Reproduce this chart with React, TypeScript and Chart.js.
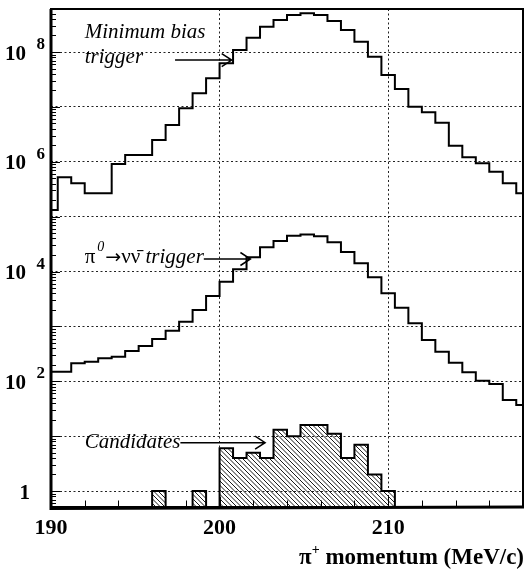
import { useEffect, useRef } from 'react';
import { Chart, registerables } from 'chart.js';

Chart.register(...registerables);

// ---- data ----
const BIN_START = 189.6; // MeV/c, lower edge of first bin
const BIN_WIDTH = 0.8; // MeV/c
const X_MIN = 190;
const X_MAX = 218;
const Y_MIN = 0.511;
const Y_MAX = 6.08e8;

// Minimum bias trigger, counts per bin (bins start at 189.6, width 0.8)
const minBiasCounts = [
  1.32e5, 5.21e5, 4.05e5, 2.66e5, 2.66e5, 9.1e5, 1.33e6, 1.33e6, 2.49e6, 4.67e6,
  9.42e6, 1.77e7, 3.32e7, 6.22e7, 1.09e8, 1.82e8, 2.89e8, 3.83e8, 4.72e8, 5.07e8,
  4.72e8, 3.67e8, 2.52e8, 1.54e8, 8.21e7, 3.81e7, 2.12e7, 1.01e7, 7.96e6, 5.15e6,
  1.96e6, 1.21e6, 9.37e5, 6.59e5, 4.05e5, 2.66e5,
];

// pi0 -> nu nubar trigger
const pi0Counts = [
  149, 149, 212, 227, 262, 280, 356, 439, 589, 834,
  1217, 1988, 3580, 6520, 10970, 18150, 27600, 35970, 44900, 47200,
  43800, 34000, 22650, 14100, 7840, 4010, 2190, 1138, 565, 345,
  218, 146, 102, 89, 45.5, 36.9,
];

// Candidates
const candidateCounts = [
  0, 0, 0, 0, 0, 0, 0, 0, 1, 0,
  0, 1, 0, 6, 4, 5, 4, 13, 10, 16,
  16, 11, 4, 7, 2, 1, 0, 0, 0, 0,
  0, 0, 0, 0, 0, 0,
];

const xTickStep = 2;
const xLabels = [190, 200, 210];
const xGridValues = [200, 210];
const yGridExponents = [0, 1, 2, 3, 4, 5, 6, 7, 8];
const yLabelExponents = [0, 2, 4, 6, 8];

// annotations (data coordinates)
const annMinBias = { x: 192.0, y: 1.8e8, lines: ['Minimum bias', 'trigger'], tipX: 200.72, tipY: 7.15e7 };
const annPi0 = { x: 192.0, y: 1.41e4, tipX: 201.83, tipY: 1.69e4 };
const annCand = { x: 192.0, y: 6.0, text: 'Candidates', tipX: 202.7, tipY: 7.6 };

const FLOOR = 0.05; // value used to draw empty bins below the axis

function histPoints(counts: number[]) {
  const pts: { x: number; y: number }[] = [];
  for (let i = 0; i <= counts.length; i++) {
    const v = counts[Math.min(i, counts.length - 1)];
    pts.push({ x: +(BIN_START + i * BIN_WIDTH).toFixed(2), y: v > 0 ? v : FLOOR });
  }
  return pts;
}

const SERIF = '"Liberation Serif", "Times New Roman", serif';
const W = 524;
const H = 570;

function makeHatch(): CanvasPattern | string {
  const s = 9;
  const c = document.createElement('canvas');
  c.width = s;
  c.height = s;
  const g = c.getContext('2d');
  if (!g) return 'rgba(0,0,0,0.3)';
  g.strokeStyle = '#000';
  g.lineWidth = 0.9;
  g.beginPath();
  for (const k of [-9, -4.5, 0, 4.5, 9]) {
    g.moveTo(k - 1, -1);
    g.lineTo(k + s + 1, s + 1);
  }
  g.stroke();
  const p = g.createPattern(c, 'repeat');
  return p || 'rgba(0,0,0,0.3)';
}

function arrow(ctx: CanvasRenderingContext2D, x1: number, y1: number, x2: number) {
  ctx.beginPath();
  ctx.moveTo(x1, y1);
  ctx.lineTo(x2, y1);
  ctx.moveTo(x2 - 10, y1 - 6.5);
  ctx.lineTo(x2, y1);
  ctx.lineTo(x2 - 10, y1 + 6.5);
  ctx.stroke();
}

const overlay = {
  id: 'overlay',
  afterDraw(chart: any) {
    const { ctx, chartArea: a, scales } = chart;
    const x = scales.x;
    const y = scales.y;
    ctx.save();
    ctx.strokeStyle = '#000';
    ctx.fillStyle = '#000';

    // inner ticks on y axis
    ctx.lineWidth = 1;
    ctx.beginPath();
    for (let e = -1; e <= 9; e++) {
      for (let m = 1; m <= 9; m++) {
        const v = m * Math.pow(10, e);
        if (v < Y_MIN || v > Y_MAX) continue;
        const py = Math.round(y.getPixelForValue(v)) + 0.5;
        const len = m === 1 ? 9 : 5;
        ctx.moveTo(a.left, py);
        ctx.lineTo(a.left + len, py);
      }
    }
    // inner ticks on x axis
    for (let v = X_MIN; v <= X_MAX; v += xTickStep) {
      const px = Math.round(x.getPixelForValue(v)) + 0.5;
      const len = v % 10 === 0 ? 10 : 6.5;
      ctx.moveTo(px, a.bottom);
      ctx.lineTo(px, a.bottom - len);
    }
    ctx.stroke();

    // frame
    ctx.lineWidth = 2;
    ctx.strokeRect(a.left, a.top, a.right - a.left, a.bottom - a.top);
    ctx.lineWidth = 3;
    ctx.beginPath();
    ctx.moveTo(a.left, a.top);
    ctx.lineTo(a.left, a.bottom + 1.5);
    ctx.lineTo(a.right + 1, a.bottom);
    ctx.stroke();

    // x labels
    ctx.textBaseline = 'alphabetic';
    ctx.textAlign = 'center';
    ctx.font = `bold 22px ${SERIF}`;
    for (const v of xLabels) {
      ctx.fillText(String(v), x.getPixelForValue(v), a.bottom + 27);
    }

    // y labels 10^n
    for (const e of yLabelExponents) {
      const py = y.getPixelForValue(Math.pow(10, e));
      if (e === 0) {
        ctx.font = `bold 21px ${SERIF}`;
        ctx.textAlign = 'right';
        ctx.fillText('1', a.left - 21, py + 8);
      } else {
        ctx.font = `bold 21px ${SERIF}`;
        ctx.textAlign = 'right';
        ctx.fillText('10', a.left - 25, py + 7.5);
        ctx.font = `bold 17px ${SERIF}`;
        ctx.textAlign = 'left';
        ctx.fillText(String(e), a.left - 14.5, py - 3);
      }
    }

    // x title: pi+ momentum (MeV/c)
    ctx.textAlign = 'left';
    const tb = a.bottom + 57;
    ctx.font = `bold 23px ${SERIF}`;
    const rest = ' momentum (MeV/c)';
    const wRest = ctx.measureText(rest).width;
    const wPi = ctx.measureText('π').width;
    ctx.font = `bold 14px ${SERIF}`;
    const wPlus = ctx.measureText('+').width;
    let tx = a.right + 1 - wRest - wPlus - wPi;
    ctx.font = `bold 23px ${SERIF}`;
    ctx.fillText('π', tx, tb);
    tx += wPi;
    ctx.font = `bold 14px ${SERIF}`;
    ctx.fillText('+', tx, tb - 10);
    tx += wPlus;
    ctx.font = `bold 23px ${SERIF}`;
    ctx.fillText(rest, tx, tb);

    // annotations
    ctx.lineWidth = 1.5;
    // Minimum bias
    {
      const px = x.getPixelForValue(annMinBias.x);
      const py = y.getPixelForValue(annMinBias.y);
      ctx.font = `italic 21px ${SERIF}`;
      ctx.fillText(annMinBias.lines[0], px, py);
      ctx.fillText(annMinBias.lines[1], px, py + 25);
      const w = ctx.measureText(annMinBias.lines[1]).width;
      const ty = y.getPixelForValue(annMinBias.tipY);
      arrow(ctx, px + w + 32, ty, x.getPixelForValue(annMinBias.tipX));
    }
    // pi0 -> nu nubar trigger
    {
      let px = x.getPixelForValue(annPi0.x);
      const py = y.getPixelForValue(annPi0.y);
      ctx.font = `21px ${SERIF}`;
      ctx.fillText('π', px, py);
      px += ctx.measureText('π').width + 2;
      ctx.font = `italic 14px ${SERIF}`;
      ctx.fillText('0', px, py - 12);
      px += ctx.measureText('0').width + 1;
      ctx.font = `19px "DejaVu Sans"`;
      ctx.fillText('→', px, py);
      px += ctx.measureText('→').width;
      ctx.font = `21px ${SERIF}`;
      const mid = 'νν\u0304';
      ctx.fillText(mid, px, py);
      px += ctx.measureText(mid).width;
      ctx.font = `italic 21px ${SERIF}`;
      const tr = ' trigger';
      ctx.fillText(tr, px, py);
      px += ctx.measureText(tr).width;
      arrow(ctx, px, y.getPixelForValue(annPi0.tipY), x.getPixelForValue(annPi0.tipX));
    }
    // Candidates
    {
      const px = x.getPixelForValue(annCand.x);
      const py = y.getPixelForValue(annCand.y);
      ctx.font = `italic 21px ${SERIF}`;
      ctx.fillText(annCand.text, px, py);
      const w = ctx.measureText(annCand.text).width;
      arrow(ctx, px + w, y.getPixelForValue(annCand.tipY), x.getPixelForValue(annCand.tipX));
    }
    ctx.restore();
  },
};

export default function App() {
  const ref = useRef<HTMLCanvasElement>(null);
  useEffect(() => {
    if (!ref.current) return;
    const hatch = makeHatch();
    const chart = new Chart(ref.current, {
      type: 'line',
      data: {
        datasets: [
          {
            label: 'Minimum bias trigger',
            data: histPoints(minBiasCounts),
            borderColor: '#000',
            borderWidth: 2,
            pointRadius: 0,
            stepped: 'before',
            fill: false,
          },
          {
            label: 'π0→νν trigger',
            data: histPoints(pi0Counts),
            borderColor: '#000',
            borderWidth: 2,
            pointRadius: 0,
            stepped: 'before',
            fill: false,
          },
          {
            label: 'Candidates',
            data: histPoints(candidateCounts),
            borderColor: '#000',
            borderWidth: 2,
            pointRadius: 0,
            stepped: 'before',
            fill: 'start',
            backgroundColor: hatch as any,
          },
        ],
      },
      options: {
        animation: false,
        responsive: false,
        maintainAspectRatio: false,
        devicePixelRatio: 1,
        events: [],
        layout: { padding: { left: 51, top: 9, right: 1, bottom: 63 } },
        plugins: { legend: { display: false }, tooltip: { enabled: false } },
        scales: {
          x: {
            type: 'linear',
            min: X_MIN,
            max: X_MAX,
            ticks: { stepSize: xTickStep, display: false },
            grid: {
              drawTicks: false,
              lineWidth: 1,
              color: (c: any) => (c.tick && xGridValues.includes(c.tick.value) ? '#222' : 'rgba(0,0,0,0)'),
            },
            border: { display: false, dash: [2, 2.5] },
          },
          y: {
            type: 'logarithmic',
            min: Y_MIN,
            max: Y_MAX,
            afterBuildTicks: (scale: any) => {
              scale.ticks = yGridExponents.map((e) => ({ value: Math.pow(10, e) }));
            },
            ticks: { display: false },
            grid: { drawTicks: false, lineWidth: 1, color: '#222' },
            border: { display: false, dash: [2, 2.5] },
          },
        },
      },
      plugins: [overlay],
    } as any);
    return () => chart.destroy();
  }, []);
  return (
    <div style={{ position: 'fixed', left: 0, top: 0, width: W, height: H, background: '#fff', overflow: 'hidden' }}>
      <canvas ref={ref} width={W} height={H} style={{ display: 'block', width: W, height: H }} />
    </div>
  );
}
